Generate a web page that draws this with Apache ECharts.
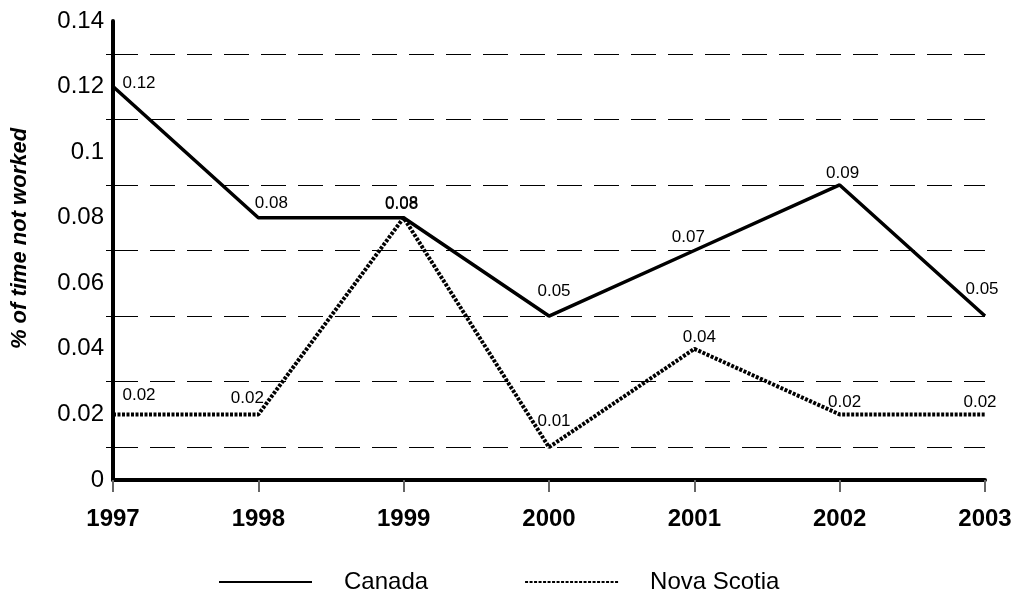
<!DOCTYPE html>
<html>
<head>
<meta charset="utf-8">
<script src="https://cdn.jsdelivr.net/npm/echarts@6/dist/echarts.min.js"></script>
<style>
  html, body { margin: 0; padding: 0; background: #fff; }
  #graphics { width: 1015px; height: 592px; }
</style>
</head>
<body>
<div id="graphics"></div>
<script>
var years = ['1997', '1998', '1999', '2000', '2001', '2002', '2003'];
var canada = [0.12, 0.08, 0.08, 0.05, 0.07, 0.09, 0.05];
var novaScotia = [0.02, 0.02, 0.08, 0.01, 0.04, 0.02, 0.02];

// label nudges (px) so the value labels sit where the original put them
var canadaLabelShift = [[26, 11], [13, 0], [-2, 0], [5, -10], [-6, 1], [3, 3], [-3, -12]];
var nsLabelShift = [[26, -5], [-11, -2], [-2, 1], [5, -11], [5, 3], [5, 2], [-5, 2]];

var font = 'Liberation Sans, Arial, sans-serif';

function withLabels(values, shifts) {
    var out = [];
    for (var i = 0; i < values.length; ++i) {
        out.push({ value: values[i], label: { offset: shifts[i] } });
    }
    return out;
}

var myChart = echarts.init(document.getElementById('graphics'));

var option = {
    animation: false,
    grid: { left: 113, right: 30, top: 21, bottom: 112 },
    legend: {
        left: 213,
        top: 565,
        itemWidth: 93,
        itemHeight: 14,
        itemGap: 96,
        itemStyle: { opacity: 0 },
        textStyle: { fontFamily: font, fontSize: 24, color: '#000', padding: [0, 0, 0, 27] },
        data: ['Canada', 'Nova Scotia']
    },
    xAxis: {
        type: 'category',
        data: years,
        boundaryGap: false,
        axisLine: { lineStyle: { color: '#000', width: 4 } },
        axisTick: { length: 12, lineStyle: { color: '#666', width: 2 } },
        axisLabel: { fontFamily: font, fontSize: 24, fontWeight: 'bold', color: '#000', margin: 27 },
        splitLine: { show: false }
    },
    yAxis: {
        type: 'value',
        min: 0,
        max: 0.14,
        interval: 0.02,
        name: '% of time not worked',
        nameLocation: 'middle',
        nameGap: 82,
        nameTextStyle: {
            fontFamily: font, fontSize: 22, fontWeight: 'bold', fontStyle: 'italic', color: '#000',
            padding: [0, 0, 0, 24]
        },
        axisLine: { show: true, lineStyle: { color: '#000', width: 4 } },
        axisTick: { show: false },
        minorTick: { show: true, splitNumber: 2, length: 7, lineStyle: { color: '#000', width: 1 } },
        minorSplitLine: { show: true, lineStyle: { color: '#000', width: 1, type: [25, 12] } },
        splitLine: { show: false },
        axisLabel: {
            fontFamily: font, fontSize: 24, color: '#000', margin: 9,
            formatter: function (v) { return String(+v.toFixed(2)); }
        }
    },
    series: [{
        name: 'Canada',
        type: 'line',
        symbol: 'circle',
        symbolSize: 0,
        data: withLabels(canada, canadaLabelShift),
        lineStyle: { color: '#000', width: 3.5 },
        itemStyle: { color: '#000' },
        label: { show: true, position: 'top', distance: 6, fontFamily: font, fontSize: 17, color: '#000' },
        z: 3
    }, {
        name: 'Nova Scotia',
        type: 'line',
        symbol: 'circle',
        symbolSize: 0,
        data: withLabels(novaScotia, nsLabelShift),
        lineStyle: { color: '#000', width: 4, type: [3, 1.5] },
        itemStyle: { color: '#000' },
        label: { show: true, position: 'top', distance: 6, fontFamily: font, fontSize: 17, color: '#000' },
        z: 2
    }]
};

myChart.setOption(option);
</script>
</body>
</html>
